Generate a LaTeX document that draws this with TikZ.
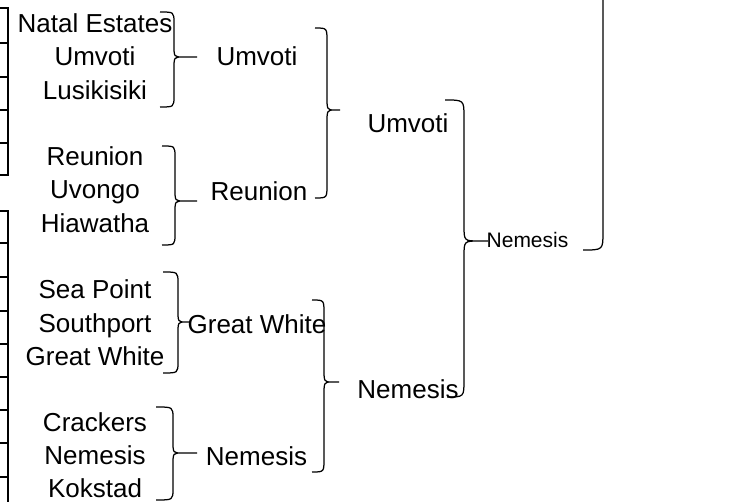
\documentclass[tikz,border=0pt]{standalone}
\usepackage{fontspec}
\setmainfont{Liberation Sans}
\begin{document}
\begin{tikzpicture}[x=1pt,y=-1pt,
  team/.style={anchor=base,inner sep=0pt,font=\fontsize{26}{31}\selectfont},
  final/.style={anchor=base,inner sep=0pt,font=\fontsize{21}{25}\selectfont},
  curly/.style={line width=1.25pt},
  tableline/.style={line width=2pt}]
\useasboundingbox (0,0) rectangle (745,502);
\draw[tableline] (0,8)--(7.5,8)--(7.5,175)--(0,175);
\draw[tableline] (0,43)--(7.5,43);
\draw[tableline] (0,77)--(7.5,77);
\draw[tableline] (0,110)--(7.5,110);
\draw[tableline] (0,143)--(7.5,143);
\draw[tableline] (0,211)--(7.5,211)--(7.5,502);
\draw[tableline] (0,243)--(7.5,243);
\draw[tableline] (0,277)--(7.5,277);
\draw[tableline] (0,311)--(7.5,311);
\draw[tableline] (0,344)--(7.5,344);
\draw[tableline] (0,377)--(7.5,377);
\draw[tableline] (0,410)--(7.5,410);
\draw[tableline] (0,443)--(7.5,443);
\draw[tableline] (0,477)--(7.5,477);
\node[team] (NE) at (95,32.5) {Natal Estates};
\node[team] (UM) at (95,65.8) {Umvoti};
\node[team] (LU) at (95,99.1) {Lusikisiki};
\node[team] (RE) at (95,165.7) {Reunion};
\node[team] (UV) at (95,199) {Uvongo};
\node[team] (HI) at (95,232.3) {Hiawatha};
\node[team] (SP) at (95,298.9) {Sea Point};
\node[team] (SO) at (95,332.2) {Southport};
\node[team] (GW) at (95,365.5) {Great White};
\node[team] (CR) at (95,431.5) {Crackers};
\node[team] (NM) at (95,464.7) {Nemesis};
\node[team] (KO) at (95,497.5) {Kokstad};
\node[team] (UM2) at (257,66) {Umvoti};
\node[team] (RE2) at (259,201) {Reunion};
\node[team] (GW2) at (257,334) {Great White};
\node[team] (NM2) at (256.5,466) {Nemesis};
\node[team] (UM3) at (408,133) {Umvoti};
\node[team] (NM3) at (408,399) {Nemesis};
\node[final] (NM4) at (527.5,248) {Nemesis};
\draw[curly] (160,12) .. controls (174,12) .. (174,23) -- (174,45) .. controls (174,57) .. (183,57) -- (197,57)
  (183,57) .. controls (174,57) .. (174,69) -- (174,96) .. controls (174,107) .. (160,107);
\draw[curly] (162,146) .. controls (175,146) .. (175,157) -- (175,189) .. controls (175,201) .. (184,201) -- (197,201)
  (184,201) .. controls (175,201) .. (175,213) -- (175,234) .. controls (175,245) .. (162,245);
\draw[curly] (163,272) .. controls (178,272) .. (178,283) -- (178,310) .. controls (178,322) .. (186,322) -- (190,322)
  (186,322) .. controls (178,322) .. (178,334) -- (178,362) .. controls (178,373) .. (163,373);
\draw[curly] (156,407) .. controls (173,407) .. (173,418) -- (173,441) .. controls (173,453) .. (182,453) -- (197,453)
  (182,453) .. controls (173,453) .. (173,465) -- (173,489) .. controls (173,500) .. (156,500);
\draw[curly] (315,28) .. controls (327,28) .. (327,41) -- (327,96) .. controls (327,110) .. (335,110) -- (340,110)
  (335,110) .. controls (327,110) .. (327,124) -- (327,185) .. controls (327,198) .. (315,198);
\draw[curly] (445,100) .. controls (464,100) .. (464,117) -- (464,225) .. controls (464,241) .. (479,241) -- (488,241)
  (479,241) .. controls (464,241) .. (464,257) -- (464,380) .. controls (464,397) .. (447,397);
\draw[curly] (312,300) .. controls (324,300) .. (324,313) -- (324,368) .. controls (324,382) .. (332,382) -- (339,382)
  (332,382) .. controls (324,382) .. (324,396) -- (324,459) .. controls (324,472) .. (312,472);
\draw[curly] (603,0) -- (603,232) .. controls (603,250) .. (583,250);
\end{tikzpicture}
\end{document}
